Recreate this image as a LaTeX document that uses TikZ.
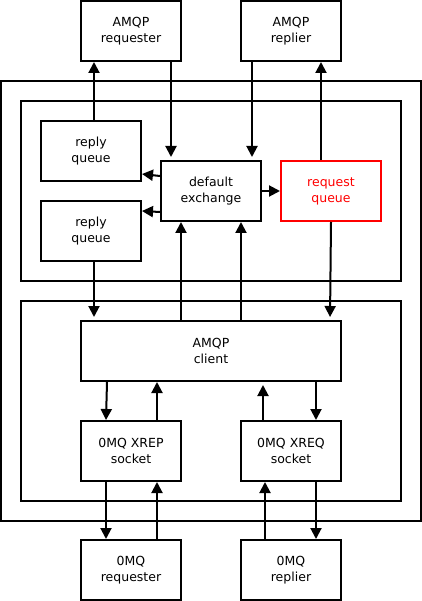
\documentclass[tikz,border=0pt]{standalone}
\usepackage{fontspec}
\setmainfont{DejaVu Sans}
\usetikzlibrary{arrows.meta,positioning}
\definecolor{queueRed}{RGB}{255, 0, 0}

\begin{document}
\begin{tikzpicture}[x=1pt, y=-1pt, line width=2pt,
    blk/.style={draw, minimum width=100pt, minimum height=60pt, inner sep=0pt,
      align=center, font=\fontsize{12.5}{16}\selectfont},
    arr/.style={-{Triangle[length=11pt,width=11pt]}},
    gap/.style={shorten >=3pt}]
  \useasboundingbox (0,0) rectangle (422,601);
  \draw (1,81) rectangle (421,521);
  \draw (21,101) rectangle (401,281);
  \draw (21,301) rectangle (401,501);

  \node[blk] (amqpreq) at (131,31) {AMQP\\requester};
  \node[blk] (amqprep) at (291,31) {AMQP\\replier};
  \node[blk] (replyA) at (91,151) {reply\\queue};
  \node[blk] (replyB) at (91,231) {reply\\queue};
  \node[blk] (exch) at (211,191) {default\\exchange};
  \node[blk, draw=queueRed, text=queueRed] (reqq) at (331,191) {request\\queue};
  \node[blk, minimum width=260pt] (client) at (211,351) {AMQP\\client};
  \node[blk] (xrep) at (131,451) {0MQ XREP\\socket};
  \node[blk] (xreq) at (291,451) {0MQ XREQ\\socket};
  \node[blk] (zreq) at (131,570) {0MQ\\requester};
  \node[blk] (zrep) at (291,570) {0MQ\\replier};

  \draw[arr] ([xshift=3]replyA.north) -- ([xshift=-37]amqpreq.south);
  \draw[arr, gap] ([xshift=40]amqpreq.south) -- ([xshift=-40]exch.north);
  \draw[arr, gap] ([xshift=-39]amqprep.south) -- ([xshift=41]exch.north);
  \draw[arr] ([xshift=-10]reqq.north) -- ([xshift=30]amqprep.south);
  \draw[arr] ([yshift=15]exch.west) -- ([yshift=-23]replyA.east);
  \draw[arr] ([yshift=-21]exch.west) -- ([yshift=20]replyB.east);
  \draw[arr] (exch.east) -- (reqq.west);
  \draw[arr, gap] ([xshift=3]replyB.south) -- ([xshift=-117]client.north);
  \draw[arr, gap] (reqq.south) -- ([xshift=119]client.north);
  \draw[arr] ([xshift=-30]client.north) -- ([xshift=-30]exch.south);
  \draw[arr] ([xshift=30]client.north) -- ([xshift=30]exch.south);
  \draw[arr] ([xshift=-104]client.south) -- ([xshift=-25]xrep.north);
  \draw[arr] ([xshift=26]xrep.north) -- ([xshift=-54]client.south);
  \draw[arr, gap] ([xshift=-28]xreq.north) -- ([xshift=52]client.south);
  \draw[arr] ([xshift=105]client.south) -- ([xshift=25]xreq.north);
  \draw[arr] ([xshift=-25]xrep.south) -- ([xshift=-25]zreq.north);
  \draw[arr] ([xshift=26]zreq.north) -- ([xshift=26]xrep.south);
  \draw[arr] ([xshift=-26]zrep.north) -- ([xshift=-26]xreq.south);
  \draw[arr] ([xshift=25]xreq.south) -- ([xshift=25]zrep.north);
\end{tikzpicture}
\end{document}
